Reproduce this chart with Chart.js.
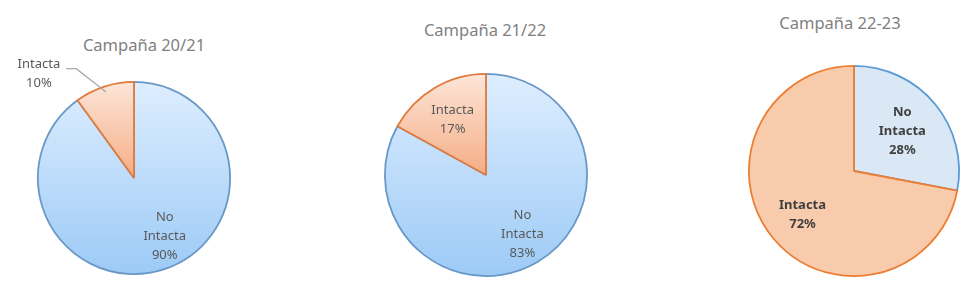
<!DOCTYPE html>
<html>
<head>
<meta charset="utf-8">
<script src="https://cdn.jsdelivr.net/npm/chart.js@4.4.1/dist/chart.umd.min.js"></script>
<style>
  body{margin:0;background:#fff;width:978px;height:292px;position:relative;overflow:hidden;font-family:"Noto Sans",sans-serif}
  .box{position:absolute}
  .ttl{position:absolute;color:#7f7f7f;font-size:16.5px;line-height:20px;white-space:nowrap;transform:translateX(-50%)}
</style>
</head>
<body>
<div class="ttl" id="t1"></div><div class="ttl" id="t2"></div><div class="ttl" id="t3"></div>
<div class="box" id="b1"><canvas id="c1"></canvas></div>
<div class="box" id="b2"><canvas id="c2"></canvas></div>
<div class="box" id="b3"><canvas id="c3"></canvas></div>
<script>
/* ---------- data ---------- */
const labels   = ['No Intacta','Intacta'];
const titles   = ['Campaña 20/21','Campaña 21/22','Campaña 22-23'];
const camp2021 = [90,10];
const camp2122 = [83,17];
const camp2223 = [28,72];

/* ---------- layout / look ---------- */
const $ = q => document.querySelector(q);
const pies = [
  {id:1,data:camp2021,cx:134,cy:178,r:97, tx:144,ty:45,grad:true, bold:false,pad:40,
   lab:[[0.32,0.61],[-0.99,-1.08]],leader:1},
  {id:2,data:camp2122,cx:486,cy:175,r:102,tx:485,ty:30,grad:true, bold:false,pad:3,
   lab:[[0.36,0.59],[-0.33,-0.55]]},
  {id:3,data:camp2223,cx:854,cy:171,r:106,tx:840,ty:23,grad:false,bold:true,pad:3,
   lab:[[0.46,-0.38],[-0.49,0.42]]}
];

// draws data labels (and the one leader line) from the arc geometry
const pieLabels = {
  id:'pieLabels',
  afterDatasetsDraw(chart){
    const p = chart.options.plugins.pieLabels, c = chart.ctx;
    const meta = chart.getDatasetMeta(0);
    c.save();
    c.font = (p.bold?'bold ':'')+'13px "Noto Sans", sans-serif';
    c.fillStyle = p.bold?'#404040':'#595959';
    c.textAlign='center'; c.textBaseline='middle';
    meta.data.forEach((arc,i)=>{
      const r = arc.outerRadius;
      const x = arc.x + p.lab[i][0]*r, y = arc.y + p.lab[i][1]*r;
      const words = labels[i].split(' ');
      const lines = [...words, chart.data.datasets[0].data[i]+'%'];
      const lh = 19, y0 = y - (lines.length-1)*lh/2;
      lines.forEach((t,k)=>c.fillText(t,x,y0+k*lh));
      if(p.leader===i){
        const mid = (arc.startAngle+arc.endAngle)/2;
        const ex = arc.x + Math.cos(mid)*r*0.94, ey = arc.y + Math.sin(mid)*r*0.94;
        const sx = x + c.measureText(words[0]).width/2 + 6, sy = y0 + 4;
        c.strokeStyle='#a6a6a6'; c.lineWidth=1.2;
        c.beginPath(); c.moveTo(sx,sy); c.lineTo(sx+10,sy); c.lineTo(ex,ey); c.stroke();
      }
    });
    c.restore();
  }
};

// vertical gradient per slice (pies 1–2), flat fill for pie 3
function fill(p){
  return ctx=>{
    const i = ctx.dataIndex, a = ctx.chart.chartArea;
    if(!p.grad || !a) return i===0?'#dae7f5':'#f8cbad';
    const top = a.top, bot = i===0 ? a.bottom : (a.top+a.bottom)/2;
    const g = ctx.chart.ctx.createLinearGradient(0,top,0,bot);
    if(i===0){ g.addColorStop(0,'#deeeff'); g.addColorStop(1,'#9ccaf6'); }
    else     { g.addColorStop(0,'#fde6d9'); g.addColorStop(1,'#f5ad85'); }
    return g;
  };
}

pies.forEach(p=>{
  const t = $('#t'+p.id);
  t.textContent = titles[p.id-1];
  t.style.left = p.tx+'px'; t.style.top = (p.ty-10)+'px';
  const b = $('#b'+p.id), s = 2*p.r + 2*p.pad;
  Object.assign(b.style,{left:(p.cx-p.r-p.pad)+'px',top:(p.cy-p.r-p.pad)+'px',width:s+'px',height:s+'px'});
  new Chart($('#c'+p.id),{
    type:'pie',
    data:{labels,datasets:[{data:p.data,
      backgroundColor:fill(p),
      borderColor:p.grad?['#6a98c6','#e07b3c']:['#5b9bd5','#ed7d31'],
      borderWidth:1.8}]},
    options:{responsive:true,maintainAspectRatio:false,animation:false,
      layout:{padding:p.pad},
      plugins:{legend:{display:false},tooltip:{enabled:false},
               pieLabels:{lab:p.lab,bold:p.bold,leader:p.leader}}},
    plugins:[pieLabels]
  });
});
</script>
</body>
</html>
